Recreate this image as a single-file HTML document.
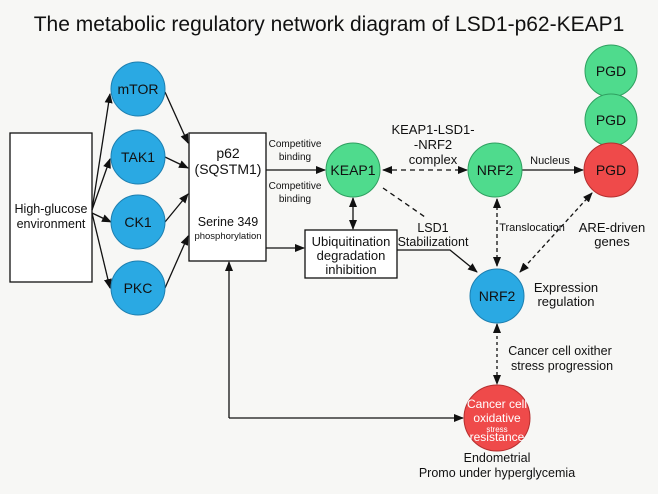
<!DOCTYPE html>
<html><head><meta charset="utf-8"><style>
body{margin:0;background:#f7f7f5;}
svg{display:block;font-family:"Liberation Sans",sans-serif;}
</style></head><body>
<svg width="658" height="494" viewBox="0 0 658 494">
<defs>
<marker id="a" markerWidth="10" markerHeight="10" refX="9" refY="5" orient="auto-start-reverse" markerUnits="userSpaceOnUse"><path d="M0,1 L10,5 L0,9 z" fill="#111"/></marker>
</defs>
<rect width="658" height="494" fill="#f7f7f5"/>
<text x="329" y="31" font-size="21" text-anchor="middle" fill="#111">The metabolic regulatory network diagram of LSD1-p62-KEAP1</text>
<g stroke="#111" stroke-width="1.3" fill="none">
<rect x="10" y="133" width="82" height="149" fill="#fff"/>
<rect x="189" y="133" width="77" height="128" fill="#fff"/>
<rect x="305" y="230" width="92" height="48" fill="#fff"/>
<line x1="92" y1="210" x2="110" y2="94" marker-end="url(#a)"/>
<line x1="92" y1="210" x2="110" y2="159" marker-end="url(#a)"/>
<line x1="92" y1="213" x2="111" y2="222" marker-end="url(#a)"/>
<line x1="92" y1="213" x2="110" y2="288" marker-end="url(#a)"/>
<line x1="165" y1="92" x2="188" y2="143" marker-end="url(#a)"/>
<line x1="165" y1="157" x2="188" y2="168" marker-end="url(#a)"/>
<line x1="165" y1="222" x2="188" y2="194" marker-end="url(#a)"/>
<line x1="165" y1="288" x2="188" y2="236" marker-end="url(#a)"/>
<line x1="266" y1="170" x2="325" y2="170" marker-end="url(#a)"/>
<line x1="266" y1="248" x2="304" y2="248" marker-end="url(#a)"/>
<line x1="353" y1="198" x2="353" y2="229" marker-start="url(#a)" marker-end="url(#a)"/>
<line x1="383" y1="170" x2="467" y2="170" stroke-dasharray="5,4" marker-start="url(#a)" marker-end="url(#a)"/>
<line x1="522" y1="170" x2="583" y2="170" marker-end="url(#a)"/>
<path d="M383 188 L425 217" stroke-dasharray="5,4"/>
<path d="M397 250 L450 250 L477 272" marker-end="url(#a)"/>
<line x1="497" y1="199" x2="497" y2="266" stroke-dasharray="4,3" marker-start="url(#a)" marker-end="url(#a)"/>
<line x1="592" y1="193" x2="520" y2="272" stroke-dasharray="4,3" marker-start="url(#a)" marker-end="url(#a)"/>
<line x1="497" y1="324" x2="497" y2="384" stroke-dasharray="3,3" marker-start="url(#a)" marker-end="url(#a)"/>
<path d="M229 418 L229 262" marker-end="url(#a)"/>
<path d="M229 418 L463 418" marker-end="url(#a)"/>
</g>
<g stroke="#1d7fb0" stroke-width="1" fill="#2aa9e3">
<circle cx="138" cy="89" r="27"/><circle cx="138" cy="157" r="27"/>
<circle cx="138" cy="222" r="27"/><circle cx="138" cy="288" r="27"/>
<circle cx="497" cy="296" r="27"/>
</g>
<g stroke="#2f9f60" stroke-width="1" fill="#4fdb8d">
<circle cx="353" cy="170" r="27"/><circle cx="495" cy="170" r="27"/>
<circle cx="611" cy="71" r="26"/><circle cx="611" cy="120" r="26"/>
</g>
<g stroke="#b52f2f" stroke-width="1" fill="#ef4a4a">
<circle cx="611" cy="170" r="27"/><circle cx="497" cy="418" r="33"/>
</g>
<g font-size="14" text-anchor="middle" fill="#111">
<text x="138" y="94">mTOR</text><text x="138" y="162">TAK1</text>
<text x="138" y="227">CK1</text><text x="138" y="293">PKC</text>
<text x="353" y="175">KEAP1</text><text x="495" y="175">NRF2</text>
<text x="611" y="76">PGD</text><text x="611" y="125">PGD</text><text x="611" y="175">PGD</text>
<text x="497" y="301">NRF2</text>
<text x="51" y="213" font-size="12.5">High-glucose</text><text x="51" y="228" font-size="12.5">environment</text>
<text x="228" y="158">p62</text><text x="228" y="174">(SQSTM1)</text>
<text x="228" y="226" font-size="12.5">Serine 349</text>
<text x="228" y="239" font-size="9.5">phosphorylation</text>
<text x="351" y="246" font-size="13">Ubiquitination</text>
<text x="351" y="260" font-size="13">degradation</text>
<text x="351" y="274" font-size="13">inhibition</text>
<text x="295" y="147" font-size="10">Competitive</text><text x="295" y="160" font-size="10">binding</text>
<text x="295" y="189" font-size="10">Competitive</text><text x="295" y="202" font-size="10">binding</text>
<text x="433" y="134" font-size="13">KEAP1-LSD1-</text><text x="433" y="149" font-size="13">-NRF2</text><text x="433" y="164" font-size="13">complex</text>
<text x="550" y="164" font-size="11">Nucleus</text>
<text x="433" y="232" font-size="12.5">LSD1</text><text x="433" y="246" font-size="12.5">Stabilizationt</text>
<text x="532" y="231" font-size="11">Translocation</text>
<text x="612" y="232" font-size="13">ARE-driven</text><text x="612" y="246" font-size="13">genes</text>
<text x="566" y="292" font-size="13">Expression</text><text x="566" y="306" font-size="13">regulation</text>
<text x="560" y="355" font-size="12.5">Cancer cell oxither</text><text x="562" y="370" font-size="12.5">stress progression</text>
<text x="497" y="408" font-size="12" fill="#fff">Cancer cell</text>
<text x="497" y="422" font-size="12" fill="#fff">oxidative</text>
<text x="497" y="432" font-size="8" fill="#fff">stress</text>
<text x="497" y="441" font-size="12" fill="#fff">resistance</text>
<text x="497" y="462" font-size="12.5">Endometrial</text>
<text x="497" y="477" font-size="12.5">Promo under hyperglycemia</text>
</g>
</svg>
</body></html>
